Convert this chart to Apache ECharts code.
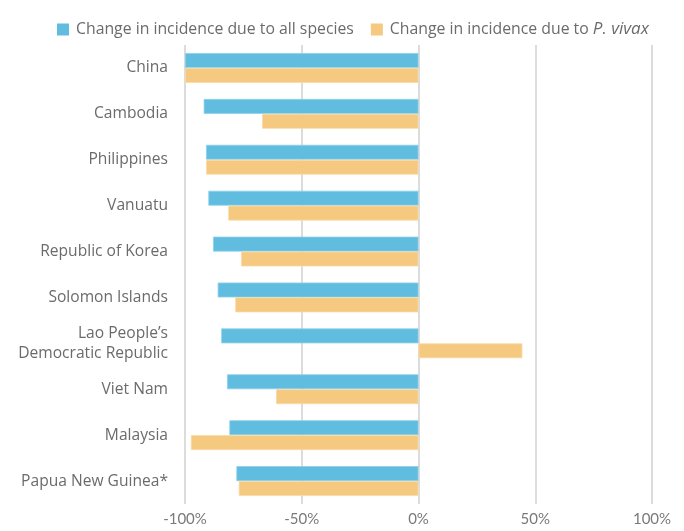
<!DOCTYPE html>
<html>
<head>
<meta charset="utf-8">
<script src="https://cdn.jsdelivr.net/npm/echarts@6/dist/echarts.min.js"></script>
<style>html,body{margin:0;padding:0;background:#fff}#c{width:684px;height:531px}</style>
</head>
<body>
<div id="c"></div>
<script>
const categories = ["China", "Cambodia", "Philippines", "Vanuatu", "Republic of Korea", "Solomon Islands", "Lao People\u2019s\nDemocratic Republic", "Viet Nam", "Malaysia", "Papua New Guinea*"];
const allSpecies = [-100, -92, -91, -90, -88, -86, -84.5, -82, -81, -78];
const vivax = [-100, -67, -91, -81.5, -76, -78.5, 44.5, -61, -97.5, -77];
const xTicks = { min: -100, max: 100, interval: 50 };
const seriesNames = ["Change in incidence due to all species", "Change in incidence due to P. vivax"];

const font = "Open Sans";
const tickFont = "Lato";
const fs = 15.6;
const chart = echarts.init(document.getElementById('c'), null, { renderer: 'canvas' });
chart.setOption({
  animation: false,
  textStyle: { fontFamily: font },
  legend: {
    left: 52, top: 16,
    itemWidth: 12, itemHeight: 12, itemGap: 17, 
    icon: 'rect',
    itemStyle: { borderWidth: 0 },
    textStyle: {
      fontFamily: font, fontSize: 15.8, color: '#6b6b6b', padding: [0, 0, 0, 2],
      rich: {
        n: { fontFamily: font, fontSize: 15.8, color: '#6b6b6b' },
        i: { fontFamily: font, fontSize: 17, color: '#6b6b6b', fontStyle: 'italic' }
      }
    },
    formatter: function (name) {
      if (name === seriesNames[1]) return '{n|Change in incidence due to }{i|P. vivax}';
      return '{n|' + name + '}';
    },
    data: seriesNames
  },
  grid: { left: 185, right: 32, top: 45, bottom: 27, containLabel: false },
  xAxis: {
    type: 'value', min: xTicks.min, max: xTicks.max, interval: xTicks.interval,
    axisLine: { show: false }, axisTick: { show: false },
    splitLine: { show: true, lineStyle: { color: '#d0d0d0', width: 1.5 } },
    axisLabel: { formatter: '{value}%', color: '#7a7a7a', fontSize: 15, fontFamily: tickFont, margin: 8 }
  },
  yAxis: {
    type: 'category', data: categories, inverse: true,
    axisLine: { show: false }, axisTick: { show: false },
    axisLabel: { color: '#6b6b6b', fontSize: fs, fontFamily: font, margin: 17, lineHeight: 20, align: 'right' }
  },
  series: [
    { name: seriesNames[0], type: 'bar', data: allSpecies, barGap: '0%', barCategoryGap: '35%',
      itemStyle: { color: '#60BDDF', borderColor: '#8fd0ea', borderWidth: 0.8 } },
    { name: seriesNames[1], type: 'bar', data: vivax, barGap: '0%', barCategoryGap: '35%',
      itemStyle: { color: '#F5C980', borderColor: '#f9dca8', borderWidth: 0.8 } }
  ]
});
</script>
</body>
</html>
